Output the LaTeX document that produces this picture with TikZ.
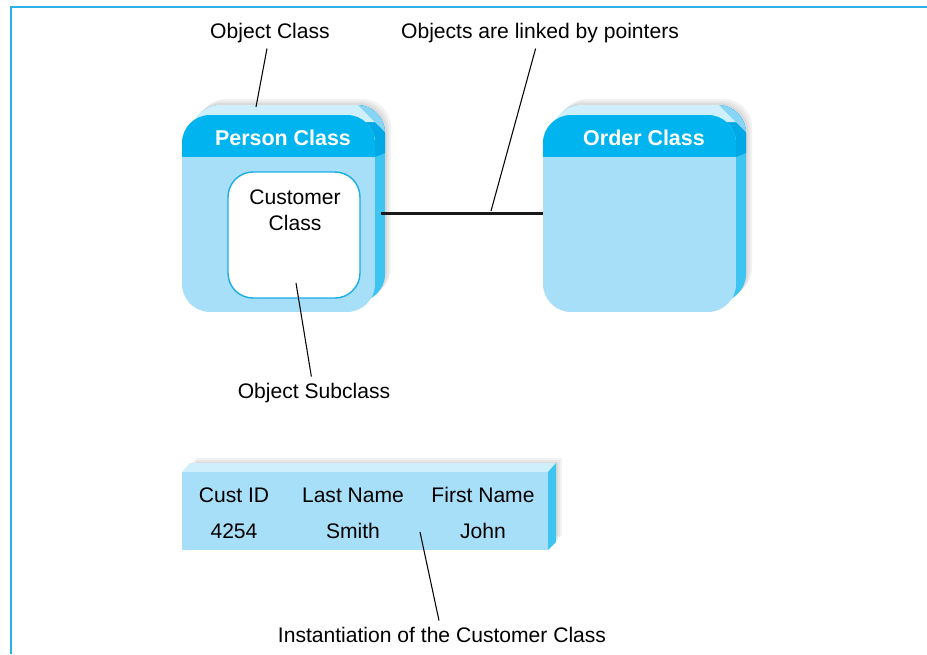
\documentclass[tikz,border=0pt]{standalone}
\usepackage{fontspec}
\setmainfont{Liberation Sans}
\usetikzlibrary{calc}
\definecolor{objhead}{HTML}{00B5EF}
\definecolor{objbody}{HTML}{A8DFF8}
\definecolor{objtop}{HTML}{D0EFFC}
\definecolor{objside}{HTML}{3EC4F1}
\definecolor{objhdside}{HTML}{00A9E6}
\definecolor{objcorner}{HTML}{88D4F4}
\definecolor{objframe}{HTML}{2BB2E5}
\definecolor{objedge}{HTML}{1AADE6}
\tikzset{
  font=\fontsize{12}{14.7}\selectfont,
  classface/.style={fill=objbody,rounded corners=0.56cm,minimum width=3.86cm,
                    minimum height=3.94cm,inner sep=0pt,
                    path picture={\fill[objhead,sharp corners] (path picture bounding box.north west)
                      rectangle ([yshift=-0.84cm]path picture bounding box.north east);}},
  classtitle/.style={text=white,font=\fontsize{12.2}{14.7}\selectfont\bfseries,anchor=base},
  subface/.style={draw=objedge,line width=0.8pt,fill=white,rounded corners=0.5cm,
                  minimum width=2.64cm,minimum height=2.52cm,inner sep=0pt},
  rowface/.style={fill=objbody,minimum width=7.32cm,minimum height=1.56cm,inner sep=0pt},
  cell/.style={anchor=base},
  caption/.style={anchor=base},
  leader/.style={line width=0.6pt,draw=black},
  link/.style={line width=1.4pt,draw=black!90},
  shadow/.style={black,opacity=0.05},
}
\begin{document}
\begin{tikzpicture}[x=0.02cm,y=-0.02cm]
  \useasboundingbox (0,0) rectangle (927,654);
  \draw[objframe,line width=1.2pt] (11,654) -- (11,7) -- (927,7);

  % the two class boxes, extruded
  \foreach \dx/\name/\title in {0/person/Person Class,361/order/Order Class}{
    \begin{scope}[shift={(\dx,0)}]
      \foreach \s in {12,14,16}
        \fill[shadow,rounded corners=0.56cm] ({182+\s},{115-\s}) rectangle ({375+\s},{312-\s});
      \begin{scope}
        \clip[rounded corners=0.56cm] (192,105) rectangle (385,302);
        \fill[objside] (180,90) rectangle (400,320);
        \fill[objhdside] (340,100) -- (400,100) -- (400,147) -- (375,157) -- (340,157) -- cycle;
        \fill[objcorner] (343,90) -- (400,90) -- (400,147) -- cycle;
        \fill[objtop] (180,90) -- (343,90) -- (375,122) -- (340,122) -- (340,160) -- (180,160) -- cycle;
      \end{scope}
      \node[classface] (\name) at (278.5,213.5) {};
      \node[classtitle] (\name-title) at (283,145) {\title};
    \end{scope}
  }

  % subclass inside the person class
  \node[subface] (custcls) at (294,235) {};
  \node[align=center,anchor=base] (custtxt) at (295,230) {Customer\\Class};

  \draw[link] ([xshift=0.12cm]person.east) -- (order.west);

  % the record (instance)
  \foreach \s in {10,12,14}
    \fill[shadow] ({182+\s},{472-\s}) rectangle ({548+\s},{550-\s});
  \fill[objtop] (182,472) -- (190,463) -- (556,463) -- (548,472) -- cycle;
  \fill[objside] (548,472) -- (556,463) -- (556,542) -- (548,550) -- cycle;
  \node[rowface] (record) at (365,511) {};
  \foreach \cx/\head/\val [count=\i] in {234/Cust ID/4254,353/Last Name/Smith,483/First Name/John}{
    \node[cell] (head\i) at (\cx,502) {\head};
    \node[cell] (val\i) at (\cx,538) {\val};
  }

  % captions and their leader lines
  \node[caption] (objcls) at (270,38) {Object Class};
  \node[caption] (linked) at (540,38) {Objects are linked by pointers};
  \node[caption] (subcls) at (314,398) {Object Subclass};
  \node[caption] (inst) at (442,642) {Instantiation of the Customer Class};

  \coordinate (persontop) at (256,107);
  \coordinate (ptrpt) at (491,211);
  \coordinate (subpt) at (296,283);
  \coordinate (recpt) at (420,532);

  \draw[leader] (objcls) -- (persontop);
  \draw[leader] (linked) -- (ptrpt);
  \draw[leader] (subpt) -- (subcls);
  \draw[leader] (recpt) -- (inst);
\end{tikzpicture}
\end{document}
